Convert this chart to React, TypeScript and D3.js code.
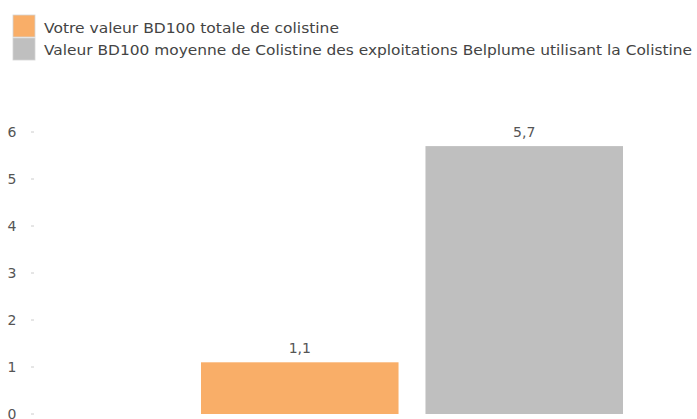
import * as d3 from 'd3';

const categories = ['Votre valeur', 'Moyenne Belplume'];
const values = [1.1, 5.7];
const valueLabels = ['1,1', '5,7'];
const colors = ['#f9ae68', '#bfbfbf'];
const legendLabels = [
  'Votre valeur BD100 totale de colistine',
  'Valeur BD100 moyenne de Colistine des exploitations Belplume utilisant la Colistine',
];
const yTicks = [0, 1, 2, 3, 4, 5, 6];

const W = 697;
const H = 419;
const font = 'Tahoma, "DejaVu Sans", sans-serif';

export default function App() {
  const y = d3.scaleLinear().domain([0, 6]).range([414, 132]);
  const x = d3.scaleBand().domain(categories).range([201, 623]).paddingInner(0.12).paddingOuter(0);

  return (
    <svg
      width={W}
      height={H}
      style={{ position: 'absolute', left: 0, top: 0, background: '#fff' }}
      fontFamily={font}
    >
      {/* legend */}
      {legendLabels.map((t, i) => (
        <g key={t}>
          <rect x={13} y={15 + i * 23} width={22} height={22} fill={colors[i]} stroke="#d4d4d4" strokeWidth={0.8} />
          <text
            x={44}
            y={33 + i * 22}
            fontSize={14}
            fill="#444"
            textLength={i === 0 ? 295 : 648}
            lengthAdjust="spacingAndGlyphs"
          >
            {t}
          </text>
        </g>
      ))}

      {/* y axis */}
      {yTicks.map((t) => (
        <g key={t} transform={`translate(0,${y(t)})`}>
          <text x={12} dy="0.36em" textAnchor="middle" fontSize={14} fill="#555">
            {t}
          </text>
          <line x1={31} x2={34} stroke="#ccc" strokeWidth={1} />
        </g>
      ))}

      {/* bars */}
      {categories.map((c, i) => (
        <g key={c}>
          <rect
            x={x(c)}
            y={y(values[i])}
            width={x.bandwidth()}
            height={y(0) - y(values[i])}
            fill={colors[i]}
          />
          <text
            x={(x(c) ?? 0) + x.bandwidth() / 2}
            y={y(values[i]) - 9}
            textAnchor="middle"
            fontSize={14}
            fill="#555"
          >
            {valueLabels[i]}
          </text>
        </g>
      ))}
    </svg>
  );
}
